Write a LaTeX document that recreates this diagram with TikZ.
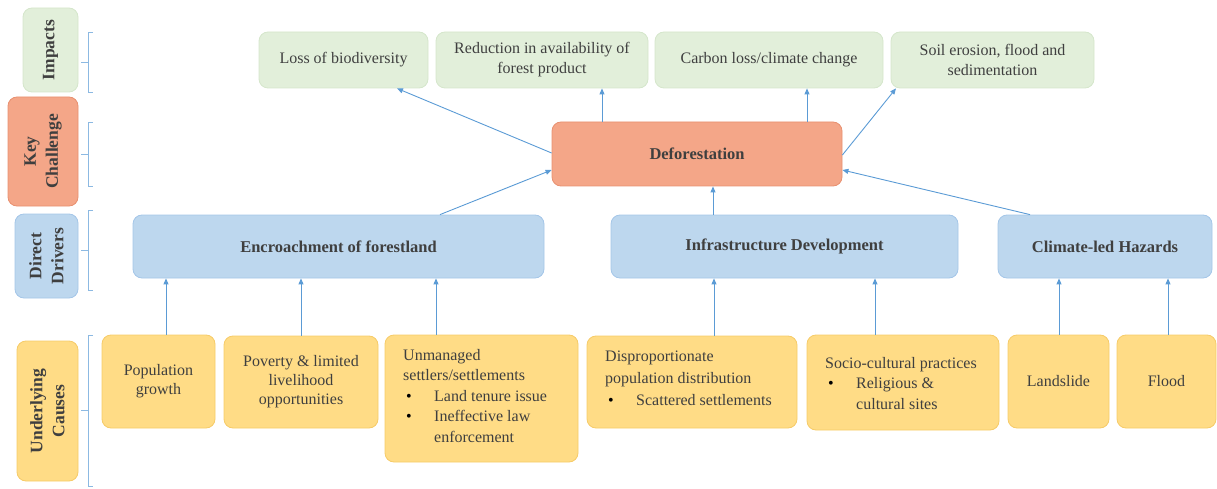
\documentclass[tikz,border=0pt]{standalone}
\usepackage{fontspec}
\setmainfont{Liberation Serif}
\usetikzlibrary{arrows.meta}
\definecolor{txt}{HTML}{3F3F3F}
\definecolor{impfill}{HTML}{E2EFDA}
\definecolor{impline}{HTML}{D5E6CB}
\definecolor{keyfill}{HTML}{F4A688}
\definecolor{keyline}{HTML}{E89070}
\definecolor{drvfill}{HTML}{BDD7EE}
\definecolor{drvline}{HTML}{A4C6E8}
\definecolor{caufill}{HTML}{FFDC86}
\definecolor{cauline}{HTML}{F6CB68}
\definecolor{link}{HTML}{5B9BD5}
\newcommand{\itemdot}{\makebox[31pt][l]{\hspace{3pt}\textcolor{black}{\textbullet}}}
\newcommand{\itemgap}{\hspace*{31pt}}
\tikzset{
  box/.style={rounded corners=9pt, inner sep=2pt, align=center, text=txt, font=\fontsize{16}{19}\selectfont, line width=0.8pt},
  impact/.style={box, fill=impfill, draw=impline, font=\fontsize{16}{20}\selectfont},
  keybox/.style={box, fill=keyfill, draw=keyline, font=\fontsize{16.5}{20}\selectfont\bfseries},
  driver/.style={box, fill=drvfill, draw=drvline, font=\fontsize{16.5}{20}\selectfont\bfseries},
  cause/.style={box, fill=caufill, draw=cauline},
  sidelabel/.style={box, rotate=90, font=\fontsize{17.5}{22}\selectfont\bfseries},
  listtext/.style={anchor=north west, inner sep=0pt, text=txt, align=left},
  link/.style={draw=link, line width=0.9pt, -{Triangle[length=6pt,width=5pt]}},
  bracket/.style={draw=link!70, line width=0.8pt}
}
\begin{document}
\begin{tikzpicture}[x=1pt,y=-1pt]
\useasboundingbox (0,0) rectangle (1217,489);

% level labels on the left
\node[sidelabel, fill=impfill, draw=impline, minimum width=84, minimum height=55] (lImp) at (50.5,50) {Impacts};
\node[sidelabel, fill=keyfill, draw=keyline, minimum width=109, minimum height=70] (lKey) at (43,151.5) {Key\\Challenge};
\node[sidelabel, fill=drvfill, draw=drvline, minimum width=84, minimum height=63] (lDrv) at (46.5,256) {Direct\\Drivers};
\node[sidelabel, fill=caufill, draw=cauline, minimum width=140, minimum height=61] (lCau) at (47.5,411) {Underlying\\Causes};

% brackets
\foreach \ya/\yb in {32/92, 122/186, 210/290, 335/486}{
  \draw[bracket] (93,\ya) -- (88,\ya) -- (88,\yb) -- (93,\yb);
  \draw[bracket] (88,{(\ya+\yb)/2}) -- (81,{(\ya+\yb)/2});
}

% impacts
\node[impact, minimum width=169, minimum height=56] (bio) at (343.5,60) {Loss of biodiversity};
\node[impact, minimum width=212, minimum height=56] (prod) at (542,60) {Reduction in availability of\\forest product};
\node[impact, minimum width=228, minimum height=56] (carb) at (769,60) {Carbon loss/climate change};
\node[impact, minimum width=203, minimum height=56] (soil) at (992.5,60) {Soil erosion, flood and\\sedimentation};

% key challenge
\node[keybox, minimum width=290, minimum height=64] (defo) at (697,154) {Deforestation};

% direct drivers
\node[driver, minimum width=411, minimum height=63] (encr) at (338.5,246.5) {Encroachment of forestland};
\node[driver, minimum width=347, minimum height=63] (infr) at (784.5,246.5) {Infrastructure Development};
\node[driver, minimum width=214, minimum height=63] (clim) at (1105,246.5) {Climate-led Hazards};

% underlying causes
\node[cause, minimum width=113, minimum height=93] (pop) at (158.5,381.5) {Population\\growth};
\node[cause, minimum width=154, minimum height=92] (pov) at (301,382) {Poverty \& limited\\livelihood\\opportunities};
\node[cause, minimum width=193, minimum height=127] (unm) at (481.5,398.5) {};
\node[cause, minimum width=210, minimum height=92] (disp) at (692,382) {};
\node[cause, minimum width=192, minimum height=95] (soc) at (903,382.5) {};
\node[cause, minimum width=101, minimum height=93] (land) at (1058.5,381.5) {Landslide};
\node[cause, minimum width=99, minimum height=93] (flood) at (1166.5,381.5) {Flood};

\node[listtext, font=\fontsize{16}{20.5}\selectfont] (unmText) at (403,349) {Unmanaged\\settlers/settlements\\
  \itemdot Land tenure issue\\
  \itemdot Ineffective law\\
  \itemgap enforcement};
\node[listtext, font=\fontsize{16}{22}\selectfont] (dispText) at (605,351) {Disproportionate\\population distribution\\
  \itemdot Scattered settlements};
\node[listtext, font=\fontsize{16}{20.5}\selectfont] (socText) at (825,357) {Socio-cultural practices\\
  \itemdot Religious \&\\
  \itemgap cultural sites};

% causes to drivers
\draw[link] (pop.north -| 166,0) -- (encr.south -| 166,0);
\draw[link] (pov.north) -- (encr.south -| pov.north);
\draw[link] (unm.north -| 436,0) -- (encr.south -| 436,0);
\draw[link] (disp.north -| 714,0) -- (infr.south -| 714,0);
\draw[link] (soc.north -| 875,0) -- (infr.south -| 875,0);
\draw[link] (land.north -| 1059,0) -- (clim.south -| 1059,0);
\draw[link] (flood.north -| 1168,0) -- (clim.south -| 1168,0);

% drivers to deforestation
\draw[link] (encr.north -| 440,0) -- (defo.west |- 0,170);
\draw[link] (infr.north -| 713,0) -- (defo.south -| 713,0);
\draw[link] (clim.north -| 1030,0) -- (defo.east |- 0,170);

% deforestation to impacts
\draw[link] (defo.west |- 0,153) -- (bio.south -| 397,0);
\draw[link] (defo.north -| 602,0) -- (prod.south -| 602,0);
\draw[link] (defo.north -| 807,0) -- (carb.south -| 807,0);
\draw[link] (defo.east |- 0,155) -- (soil.south -| 896,0);
\end{tikzpicture}
\end{document}
